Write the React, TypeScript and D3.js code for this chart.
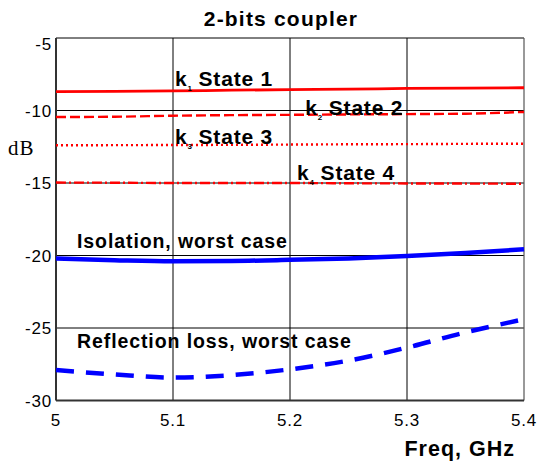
import React from "react";
import * as d3 from "d3";

const freqs = [5.0, 5.05, 5.1, 5.15, 5.2, 5.25, 5.3, 5.35, 5.4];
const k1 = [-8.7, -8.68, -8.65, -8.6, -8.56, -8.53, -8.48, -8.45, -8.43];
const k2 = [-10.45, -10.43, -10.36, -10.32, -10.3, -10.27, -10.25, -10.22, -10.1];
const k3 = [-12.4, -12.39, -12.38, -12.37, -12.35, -12.33, -12.32, -12.3, -12.29];
const k4 = [-14.97, -14.98, -15.0, -15.0, -15.0, -15.02, -15.03, -15.04, -15.05];
const isolation = [-20.2, -20.32, -20.4, -20.38, -20.3, -20.2, -20.03, -19.82, -19.57];
const reflection = [-27.9, -28.2, -28.42, -28.25, -27.85, -27.25, -26.35, -25.3, -24.4];

const xTicks = [5, 5.1, 5.2, 5.3, 5.4];
const xTickLabels = ["5", "5.1", "5.2", "5.3", "5.4"];
const yTicks = [-5, -10, -15, -20, -25, -30];
const yTickLabels = ["-5", "-10", "-15", "-20", "-25", "-30"];

const W = 541;
const H = 461;
const M = { left: 56, right: 17, top: 38, bottom: 60.5 };

const SANS = "'Liberation Sans', Arial, Helvetica, sans-serif";

export default function App() {
  const x = d3.scaleLinear().domain([5, 5.4]).range([M.left, W - M.right]);
  const y = d3.scaleLinear().domain([-30, -5]).range([H - M.bottom, M.top]);
  const line = (vals: number[]) =>
    d3
      .line<number>()
      .x((_, i) => x(freqs[i]))
      .y((v) => y(v))
      .curve(d3.curveMonotoneX)(vals) as string;

  const series = [
    { vals: k1, color: "#ff0000", w: 2.8, dash: "" },
    { vals: k2, color: "#ff0000", w: 2.4, dash: "10 4" },
    { vals: k3, color: "#ff0000", w: 2.4, dash: "2 3" },
    { vals: k4, color: "#ff0000", w: 2.4, dash: "10 3 2 3" },
    { vals: isolation, color: "#0000ff", w: 4.5, dash: "" },
    { vals: reflection, color: "#0000ff", w: 4.5, dash: "18 12" },
  ];

  const annots = [
    { f: 5.1017, v: -8.31, k: "k", sub: "1", rest: " State 1" },
    { f: 5.213, v: -10.31, k: "k", sub: "2", rest: " State 2" },
    { f: 5.1017, v: -12.31, k: "k", sub: "3", rest: " State 3" },
    { f: 5.206, v: -14.79, k: "k", sub: "4", rest: " State 4" },
  ];

  const x0 = x(5), x1 = x(5.4), y0 = y(-30), y1 = y(-5);

  return (
    <svg
      width={W}
      height={H}
      style={{ position: "absolute", left: 0, top: 0, background: "#fff" }}
    >
      <rect x={0} y={0} width={W} height={H} fill="#fff" />
      {/* grid */}
      {xTicks.slice(1, -1).map((t) => (
        <line key={"gx" + t} x1={x(t)} x2={x(t)} y1={y1} y2={y0} stroke="#000" strokeWidth={1} />
      ))}
      {yTicks.slice(1, -1).map((t) => (
        <line key={"gy" + t} x1={x0} x2={x1} y1={y(t)} y2={y(t)} stroke="#000" strokeWidth={1} />
      ))}
      {/* frame */}
      <line x1={x0} x2={x1} y1={y1} y2={y1} stroke="#000" strokeWidth={1} />
      <line x1={x1} x2={x1} y1={y1} y2={y0} stroke="#555" strokeWidth={1.2} />
      <line x1={x0} x2={x0} y1={y1} y2={y0} stroke="#333" strokeWidth={2} />
      <line x1={x0} x2={x1} y1={y0} y2={y0} stroke="#333" strokeWidth={2} />

      {/* series */}
      {series.map((s, i) => (
        <path
          key={i}
          d={line(s.vals)}
          fill="none"
          stroke={s.color}
          strokeWidth={s.w}
          strokeDasharray={s.dash || undefined}
        />
      ))}

      {/* annotations */}
      {annots.map((a, i) => (
        <text
          key={i}
          x={x(a.f)}
          y={y(a.v)}
          fontFamily={SANS}
          fontWeight="bold"
          fontSize={21}
          letterSpacing={0.8}
          fill="#000"
        >
          {a.k}
          <tspan fontSize={8} dy={5} letterSpacing={0}>{a.sub}</tspan>
          <tspan dy={-5}>{a.rest}</tspan>
        </text>
      ))}
      <text x={x(5.018)} y={y(-19.48)} fontFamily={SANS} fontWeight="bold" fontSize={19.5} letterSpacing={0.9}>
        Isolation, worst case
      </text>
      <text x={x(5.018)} y={y(-26.36)} fontFamily={SANS} fontWeight="bold" fontSize={19.5} letterSpacing={0.9}>
        Reflection loss, worst case
      </text>

      {/* y ticks */}
      {yTicks.map((t, i) => (
        <text key={"yt" + t} x={x0 - 4} y={y(t) + 6 + (t === -5 ? 6 : 0)} textAnchor="end" fontFamily={SANS} fontSize={17} letterSpacing={0.8}>
          {yTickLabels[i]}
        </text>
      ))}
      {/* x ticks */}
      {xTicks.map((t, i) => (
        <text key={"xt" + t} x={x(t)} y={y0 + 25} textAnchor="middle" fontFamily={SANS} fontSize={17} letterSpacing={0.8}>
          {xTickLabels[i]}
        </text>
      ))}

      <text x={281} y={26} textAnchor="middle" fontFamily={SANS} fontWeight="bold" fontSize={21} letterSpacing={1.2}>
        2-bits coupler
      </text>
      <text x={515} y={456} textAnchor="end" fontFamily={SANS} fontWeight="bold" fontSize={21.5} letterSpacing={1}>
        Freq, GHz
      </text>
      <text x={8} y={155} fontFamily="'Liberation Serif', 'Times New Roman', serif" fontSize={21} letterSpacing={1}>
        dB
      </text>
    </svg>
  );
}
